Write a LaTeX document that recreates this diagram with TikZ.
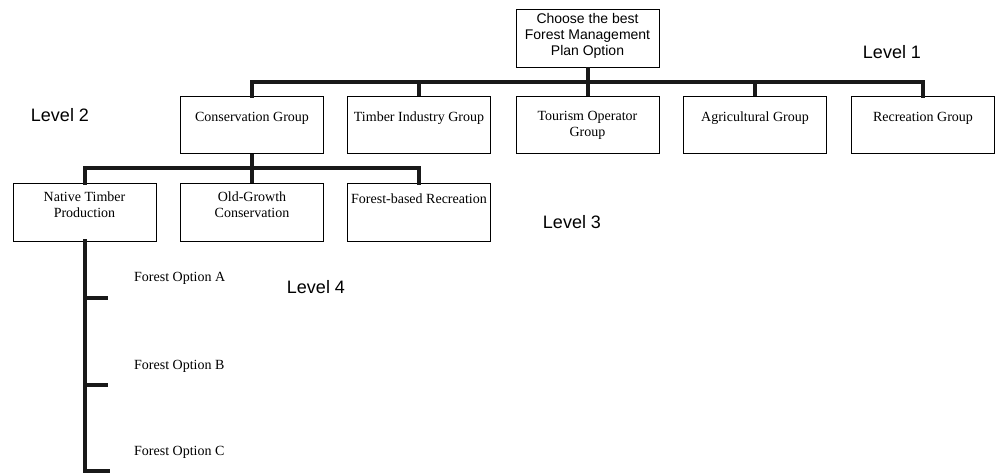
\documentclass[tikz,border=0pt]{standalone}
\usepackage{fontspec}
\setmainfont{Liberation Serif}
\setsansfont{Liberation Sans}
\begin{document}
\begin{tikzpicture}[x=1pt,y=-1pt,
  box/.style={draw=black,line width=0.9pt,minimum width=143pt,minimum height=57pt,inner sep=0pt},
  txt/.style={font=\fontsize{14}{16}\selectfont,align=center,inner sep=0pt},
  stxt/.style={font=\sffamily\fontsize{14}{16}\selectfont,align=center,inner sep=0pt},
  lvl/.style={font=\sffamily\fontsize{18}{20}\selectfont,inner sep=0pt},
  conn/.style={line width=4pt,draw=black!90}]
\useasboundingbox (0,0) rectangle (996,474);
% level 1
\node[box,minimum height=58pt] (root) at (587.5,38) {};
\node[stxt] at (587.5,36) {Choose the best\\Forest Management\\Plan Option};
% level 2
\node[box] (g1) at (252,125) {};
\node[box] (g2) at (419,125) {};
\node[box] (g3) at (587.5,125) {};
\node[box] (g4) at (755,125) {};
\node[box] (g5) at (923,125) {};
\node[txt] at (252,118) {Conservation Group};
\node[txt] at (419,118) {Timber Industry Group};
\node[txt] at (587.5,125.5) {Tourism Operator\\Group};
\node[txt] at (755,118) {Agricultural Group};
\node[txt] at (923,118) {Recreation Group};
% level 3
\node[box,minimum height=58pt] (c1) at (84.5,212) {};
\node[box,minimum height=58pt] (c2) at (252,212) {};
\node[box,minimum height=58pt] (c3) at (419,212) {};
\node[txt] at (84.5,205) {Native Timber\\Production};
\node[txt] at (252,205) {Old-Growth\\Conservation};
\node[txt] at (419,199) {Forest-based Recreation};
% level 4 options
\node[txt,anchor=west] (oa) at (134,278) {Forest Option A};
\node[txt,anchor=west] (ob) at (134,366) {Forest Option B};
\node[txt,anchor=west] (oc) at (134,452) {Forest Option C};
\coordinate (ta) at (108,298);
\coordinate (tb) at (108,385);
\coordinate (tc) at (108,471);
% level labels
\node[lvl] at (892,52) {Level 1};
\node[lvl] at (60,115) {Level 2};
\node[lvl] at (572,222) {Level 3};
\node[lvl] at (316,287) {Level 4};
% connectors
\draw[conn] (root.south) -- ++(0,15) coordinate (bar);
\draw[conn,line cap=rect] (g1.north) |- (bar -| g5.north) -- (g5.north);
\foreach \g in {g2,g3,g4} \draw[conn] (\g.north) -- (\g.north |- bar);
\draw[conn] (g1.south) -- ++(0,14.5) coordinate (bar3);
\draw[conn,line cap=rect] (c1.north) |- (bar3 -| c3.north) -- (c3.north);
\draw[conn] (c2.north) -- (c2.north |- bar3);
\draw[conn,line cap=rect] (c1.south) |- (tc);
\draw[conn] (ta -| c1.south) -- (ta);
\draw[conn] (tb -| c1.south) -- (tb);
\end{tikzpicture}
\end{document}
